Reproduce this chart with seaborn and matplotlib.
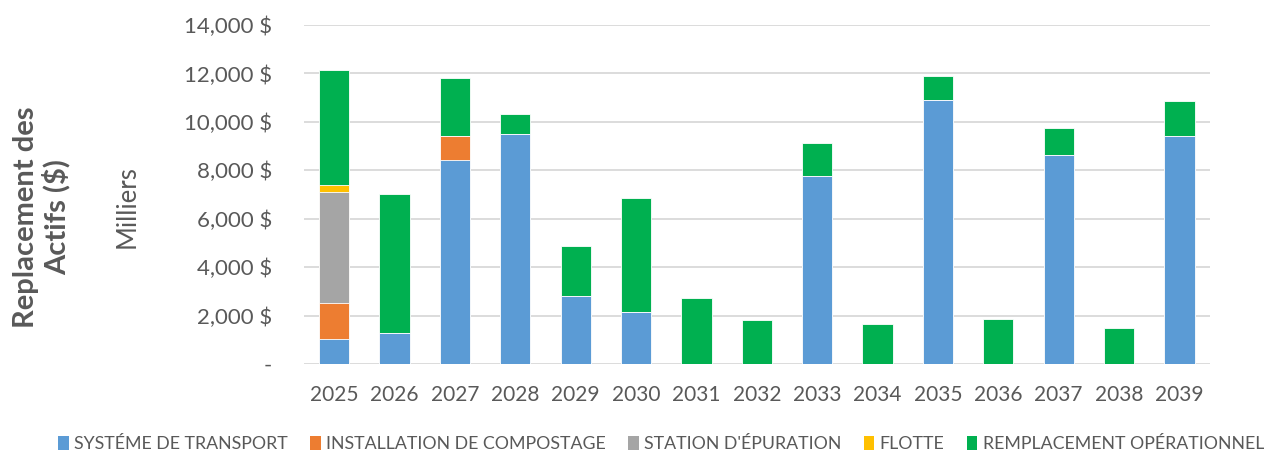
import matplotlib
matplotlib.use("Agg")
import matplotlib.pyplot as plt
from matplotlib.patches import Patch
from matplotlib.ticker import FuncFormatter
import seaborn as sns
import pandas as pd
import numpy as np

years = ["2025", "2026", "2027", "2028", "2029", "2030", "2031", "2032",
         "2033", "2034", "2035", "2036", "2037", "2038", "2039"]
transport = [1050, 1260, 8410, 9500, 2810, 2150, 0, 0, 7770, 0, 10920, 0, 8630, 0, 9410]
compostage = [1450, 0, 1000, 0, 0, 0, 0, 0, 0, 0, 0, 0, 0, 0, 0]
epuration = [4620, 0, 0, 0, 0, 0, 0, 0, 0, 0, 0, 0, 0, 0, 0]
flotte = [260, 0, 0, 0, 0, 0, 0, 0, 0, 0, 0, 0, 0, 0, 0]
remplacement = [4760, 5760, 2400, 820, 2060, 4690, 2720, 1820, 1360, 1640, 970, 1850, 1110, 1490, 1460]

legend_labels = ["SYSTÉME DE TRANSPORT", "INSTALLATION DE COMPOSTAGE",
                 "STATION D'ÉPURATION", "FLOTTE", "REMPLACEMENT OPÉRATIONNEL"]
colors = ["#5B9BD5", "#ED7D31", "#A5A5A5", "#FFC000", "#00B050"]

sns.set_theme(style="white")
plt.rcParams['font.family'] = ['Lato', 'DejaVu Sans']

df = pd.DataFrame({"year": years, "s0": transport, "s1": compostage,
                   "s2": epuration, "s3": flotte, "s4": remplacement})
layers = ["s0", "s1", "s2", "s3", "s4"]
cum = df[layers].cumsum(axis=1)

fig = plt.figure(figsize=(12.64, 4.53), dpi=100)
ax = fig.add_axes([0.2405, 0.1965, 0.7165, 0.7483])

grid_c = "#D9D9D9"
for v in range(0, 14001, 2000):
    ax.axhline(v, color=grid_c, lw=1.3, zorder=0)

for i in reversed(range(len(layers))):
    sns.barplot(x=df["year"], y=cum[layers[i]], color=colors[i], width=0.5,
                ax=ax, saturation=1, edgecolor="white", linewidth=0.6,
                zorder=2, order=years)

ax.set_ylim(0, 14000)
ax.set_xlim(-0.5, len(years) - 0.5)
ax.set_yticks(range(0, 14001, 2000))
ax.yaxis.set_major_formatter(FuncFormatter(
    lambda v, p: "-" if v == 0 else "{:,.0f} \\$".format(v)))
ax.set_xlabel("")
ax.set_ylabel("")
for s in ax.spines.values():
    s.set_visible(False)
ax.tick_params(axis="both", length=0, colors="#595959")
ax.tick_params(axis="y", pad=23, labelsize=16)
ax.tick_params(axis="x", pad=15, labelsize=15)

fig.text(0.033, 0.52, "Replacement des\nActifs (\\$)", rotation=90, ha="center",
         va="center", fontsize=21, fontweight="bold", color="#595959",
         linespacing=1.1)
fig.text(0.1005, 0.543, "Milliers", rotation=90, ha="center", va="center",
         fontsize=18.5, color="#595959")

handles = [Patch(facecolor=c, edgecolor="none") for c in colors]
fig.legend(handles, legend_labels, loc="center", bbox_to_anchor=(0.523, 0.02),
           ncol=5, frameon=False, fontsize=12.8, handlelength=0.6,
           handleheight=0.9, handletextpad=0.3, columnspacing=1.25,
           labelcolor="#595959")

fig.savefig("out.png", dpi=100)
